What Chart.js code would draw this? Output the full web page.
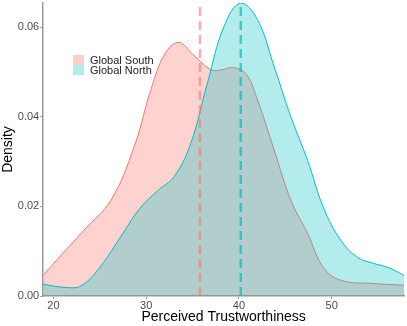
<!DOCTYPE html>
<html>
<head>
<meta charset="utf-8">
<script src="https://cdn.jsdelivr.net/npm/chart.js@4.4.0/dist/chart.umd.min.js"></script>
<style>
  html, body { margin: 0; padding: 0; background: #fff; }
  #wrap { position: relative; width: 407px; height: 326px; }
  #legend { position: absolute; left: 73px; top: 55px; font-family: "Liberation Sans", Arial, sans-serif; font-size: 11px; color: #222; line-height: 10px; }
  #legend div { height: 10px; }
  #legend span.sw { display: inline-block; width: 11px; height: 10px; vertical-align: top; margin-right: 6px; }
</style>
</head>
<body>
<div id="wrap">
  <canvas id="c" width="407" height="326"></canvas>
  <div id="legend">
    <div><span class="sw" style="background:rgba(248,118,109,0.35)"></span>Global South</div>
    <div><span class="sw" style="background:rgba(0,191,196,0.3)"></span>Global North</div>
  </div>
</div>
<script>
// density curves
var southX = [18.9, 21.0, 23.3, 26.2, 28.7, 30.5, 32.0, 33.5, 35.0, 37.0, 38.2, 39.4, 40.8, 42.0, 43.8, 45.6, 47.4, 49.1, 51.0, 54.5, 57.8];
var southY = [0.0046, 0.0095, 0.0147, 0.0214, 0.0333, 0.0460, 0.0540, 0.0566, 0.0540, 0.0505, 0.0505, 0.0510, 0.0495, 0.0438, 0.0326, 0.0214, 0.0140, 0.0064, 0.0035, 0.0028, 0.0024];
var northX = [18.9, 21.4, 23.0, 25.0, 27.5, 29.3, 31.3, 33.0, 34.8, 36.6, 38.4, 40.2, 42.0, 43.8, 45.6, 47.4, 49.1, 51.0, 52.8, 54.5, 56.3, 57.8];
var northY = [0.0026, 0.0019, 0.0023, 0.0064, 0.0140, 0.0195, 0.0236, 0.0266, 0.0340, 0.0475, 0.0602, 0.0654, 0.0617, 0.0512, 0.0400, 0.0303, 0.0198, 0.0124, 0.0086, 0.0073, 0.0062, 0.0046];
var southMean = 35.8;
var northMean = 40.2;
var xTicks = [20, 30, 40, 50];
var yTicks = [0, 0.02, 0.04, 0.06];

function pts(xs, ys) {
    return xs.map(function (x, i) { return {x: x, y: ys[i]}; });
}

var font = "'Liberation Sans', Arial, sans-serif";

new Chart(document.getElementById('c').getContext('2d'), {
    type: 'scatter',
    data: {
        datasets: [
            {
                data: pts(southX, southY),
                showLine: true,
                borderColor: '#F8766D',
                borderWidth: 1,
                backgroundColor: 'rgba(248,118,109,0.33)',
                fill: 'origin',
                tension: 0.4,
                pointRadius: 0,
                order: 4
            },
            {
                data: pts(northX, northY),
                showLine: true,
                borderColor: '#00BFC4',
                borderWidth: 1,
                backgroundColor: 'rgba(0,191,196,0.3)',
                fill: 'origin',
                tension: 0.4,
                pointRadius: 0,
                order: 3
            },
            {
                data: [{x: southMean, y: 0}, {x: southMean, y: 0.0655}],
                showLine: true,
                borderColor: 'rgba(248,118,109,0.6)',
                borderWidth: 2.5,
                borderDash: [9, 5],
                pointRadius: 0,
                order: 2
            },
            {
                data: [{x: northMean, y: 0}, {x: northMean, y: 0.0655}],
                showLine: true,
                borderColor: 'rgba(0,191,196,0.7)',
                borderWidth: 2.5,
                borderDash: [9, 5],
                pointRadius: 0,
                order: 1
            }
        ]
    },
    options: {
        responsive: false,
        animation: false,
        layout: {padding: {top: 3, right: 3, left: 0, bottom: 0}},
        plugins: {legend: {display: false}, tooltip: {enabled: false}},
        scales: {
            x: {
                type: 'linear',
                min: 18.9,
                max: 57.8,
                afterBuildTicks: function (axis) { axis.ticks = xTicks.map(function (v) { return {value: v}; }); },
                grid: {drawOnChartArea: false, color: '#999', tickLength: 3},
                border: {color: '#999', width: 1.5},
                ticks: {color: '#4D4D4D', font: {family: font, size: 11}, padding: 0, maxRotation: 0},
                title: {display: true, text: 'Perceived Trustworthiness', color: '#000', font: {family: font, size: 14}, padding: {top: -3, bottom: 0}}
            },
            y: {
                min: 0,
                max: 0.0654,
                afterBuildTicks: function (axis) { axis.ticks = yTicks.map(function (v) { return {value: v}; }); },
                afterFit: function (axis) { axis.paddingTop = 0; },
                grid: {drawOnChartArea: false, color: '#999', tickLength: 3},
                border: {color: '#999', width: 1.5},
                ticks: {color: '#4D4D4D', font: {family: font, size: 11}, padding: 1, callback: function (v) { return v.toFixed(2); }},
                title: {display: true, text: 'Density', color: '#000', font: {family: font, size: 14}, padding: {top: 0, bottom: 0}}
            }
        }
    }
});
</script>
</body>
</html>
